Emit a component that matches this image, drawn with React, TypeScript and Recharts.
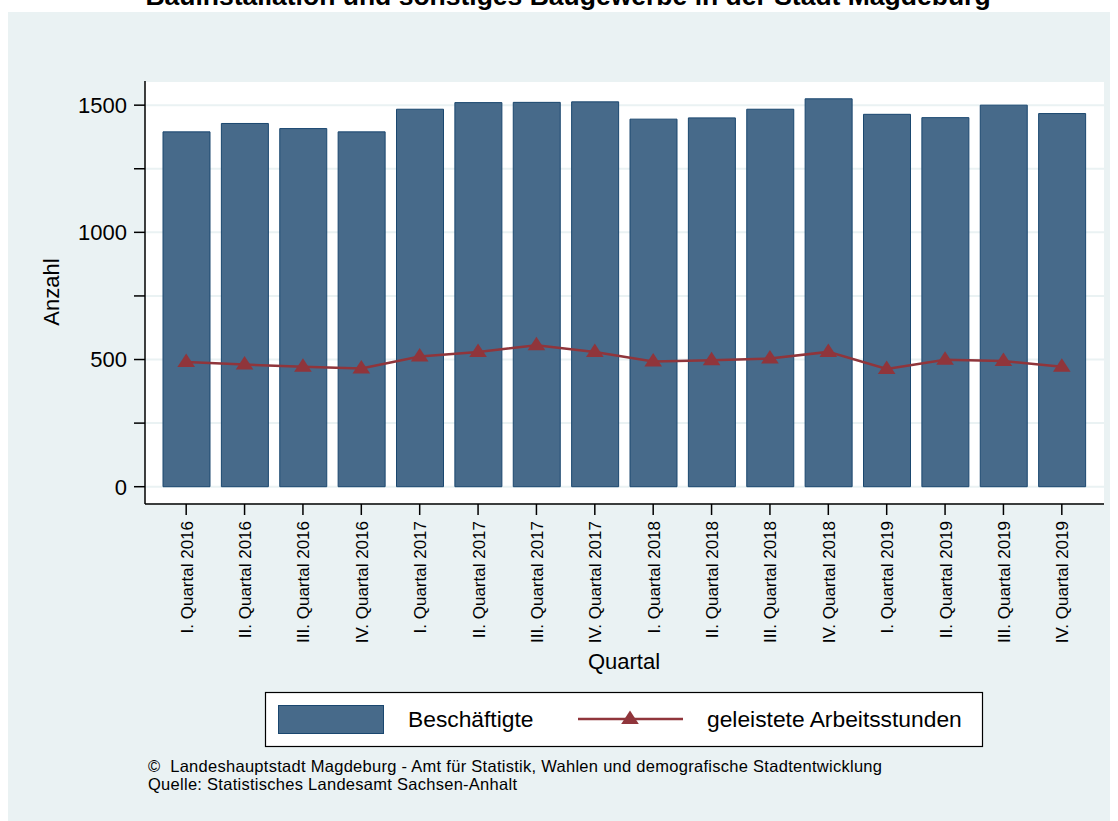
import { Bar, CartesianGrid, ComposedChart, Line, XAxis, YAxis } from 'recharts';

const quarters = [
  'I. Quartal 2016', 'II. Quartal 2016', 'III. Quartal 2016', 'IV. Quartal 2016',
  'I. Quartal 2017', 'II. Quartal 2017', 'III. Quartal 2017', 'IV. Quartal 2017',
  'I. Quartal 2018', 'II. Quartal 2018', 'III. Quartal 2018', 'IV. Quartal 2018',
  'I. Quartal 2019', 'II. Quartal 2019', 'III. Quartal 2019', 'IV. Quartal 2019',
];
const beschaeftigte = [1395, 1428, 1408, 1395, 1484, 1510, 1511, 1513, 1445, 1450, 1484, 1525, 1464, 1451, 1500, 1467];
const arbeitsstunden = [490, 480, 472, 465, 512, 530, 556, 530, 492, 497, 504, 530, 463, 499, 494, 472];
const yTicks = [0, 250, 500, 750, 1000, 1250, 1500];

const FONT = '"Liberation Sans", Arial, Helvetica, sans-serif';
const BG = '#EAF2F3';
const BAR_FILL = '#476A8A';
const BAR_EDGE = '#1A476F';
const LINE = '#90353B';

const data = quarters.map((q, i) => ({ q, b: beschaeftigte[i], h: arbeitsstunden[i] }));

function Triangle({ cx, cy }: { cx?: number; cy?: number }) {
  if (cx == null || cy == null) return null;
  return <polygon points={`${cx},${cy - 8.5} ${cx + 8.8},${cy + 5} ${cx - 8.8},${cy + 5}`} fill={LINE} />;
}

function QuarterTick({ x, payload }: { x?: number; payload?: { value: string } }) {
  return (
    <text
      transform={`translate(${(x ?? 0) + 6.5}, 521) rotate(-90)`}
      textAnchor="end"
      fontSize={17}
      fontFamily={FONT}
      fill="#000"
    >
      {payload?.value}
    </text>
  );
}

export default function App() {
  return (
    <div style={{ position: 'absolute', left: 0, top: 0, width: 1118, height: 821, background: '#fff', fontFamily: FONT }}>
      <div style={{ position: 'absolute', left: 8, top: 12, width: 1102, height: 809, background: BG }} />

      <div style={{ position: 'absolute', left: 0, top: 0 }}>
        <ComposedChart
          width={1118}
          height={821}
          data={data}
          margin={{ top: 81, right: 14, left: 45, bottom: 167 }}
        >
          <CartesianGrid horizontal vertical={false} fill="#fff" stroke={BG} strokeWidth={2} />
          <XAxis
            dataKey="q"
            interval={0}
            height={150}
            padding={{ left: 12, right: 13 }}
            tickSize={11}
            tick={<QuarterTick />}
            axisLine={{ stroke: '#000', strokeWidth: 1.5 }}
            tickLine={{ stroke: '#000', strokeWidth: 1.5 }}
          />
          <YAxis
            width={100}
            domain={[-68, 1595]}
            ticks={yTicks}
            allowDataOverflow
            tickSize={11}
            tickMargin={7}
            tickFormatter={(v: number) => (v % 500 === 0 ? String(v) : '')}
            tick={{ fontSize: 22, fill: '#000', fontFamily: FONT }}
            axisLine={{ stroke: '#000', strokeWidth: 1.5 }}
            tickLine={{ stroke: '#000', strokeWidth: 1.5 }}
          />
          <Bar dataKey="b" barSize={47} fill={BAR_FILL} stroke={BAR_EDGE} strokeWidth={1} isAnimationActive={false} />
          <Line
            dataKey="h"
            type="linear"
            stroke={LINE}
            strokeWidth={2.5}
            dot={<Triangle />}
            activeDot={false}
            isAnimationActive={false}
          />
        </ComposedChart>
      </div>

      <svg width={1118} height={821} style={{ position: 'absolute', left: 0, top: 0, pointerEvents: 'none' }}>
        <text x={568} y={5} textAnchor="middle" fontSize={26.5} fontWeight="bold" fontFamily={FONT} fill="#000">
          Bauinstallation und sonstiges Baugewerbe in der Stadt Magdeburg
        </text>
        <text transform="translate(59, 292) rotate(-90)" textAnchor="middle" fontSize={22} fontFamily={FONT} fill="#000">
          Anzahl
        </text>
        <text x={624} y={669} textAnchor="middle" fontSize={22} fontFamily={FONT} fill="#000">
          Quartal
        </text>

        <rect x={265.5} y={692.5} width={717} height={54} fill="#fff" stroke="#000" strokeWidth={1.2} />
        <rect x={278.5} y={705.5} width={105} height={28} fill={BAR_FILL} stroke={BAR_EDGE} strokeWidth={1} />
        <text x={408} y={727} fontSize={22.8} fontFamily={FONT} fill="#000">Beschäftigte</text>
        <line x1={578} y1={719} x2={683} y2={719} stroke={LINE} strokeWidth={2.5} />
        <Triangle cx={630} cy={719} />
        <text x={707} y={727} fontSize={22.8} fontFamily={FONT} fill="#000">geleistete Arbeitsstunden</text>

        <text x={148} y={772} fontSize={16.5} fontFamily={FONT} fill="#000" xmlSpace="preserve" textLength={734} lengthAdjust="spacing">
          ©  Landeshauptstadt Magdeburg - Amt für Statistik, Wahlen und demografische Stadtentwicklung
        </text>
        <text x={148} y={790} fontSize={16.5} fontFamily={FONT} fill="#000" textLength={369} lengthAdjust="spacing">
          Quelle: Statistisches Landesamt Sachsen-Anhalt
        </text>
      </svg>
    </div>
  );
}
